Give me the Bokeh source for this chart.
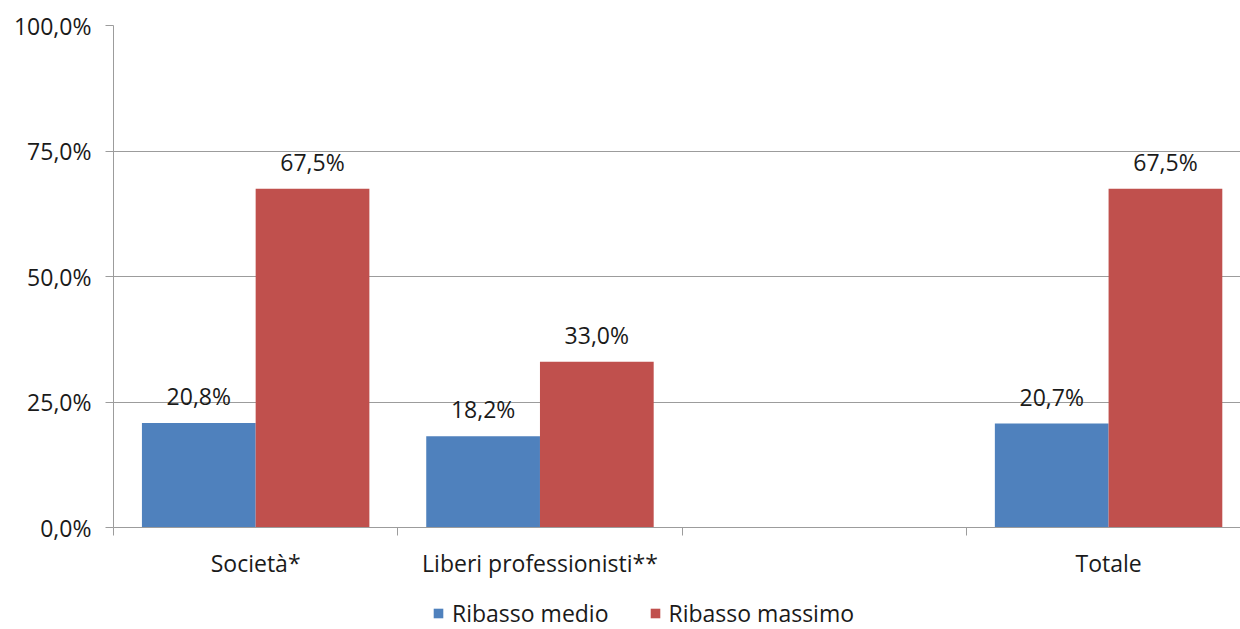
from bokeh.plotting import figure
from bokeh.layouts import column
from bokeh.models import (Range1d, FixedTicker, Legend, LegendItem, ColumnDataSource,
                          LinearAxis)
from bokeh.core.properties import value
from bokeh.embed import file_html
from bokeh.resources import INLINE

categories = ["Società*", "Liberi professionisti**", "", "Totale"]
ribasso_medio = [20.8, 18.2, None, 20.7]
ribasso_massimo = [67.5, 33.0, None, 67.5]
series_names = ["Ribasso medio", "Ribasso massimo"]
y_ticks = [0, 25, 50, 75, 100]

FONT = "Open Sans"
FS = "23px"
TXT = "#1a1a1a"
GRID = "#9c9c9c"
colors = ["#4F81BD", "#C0504D"]

def fmt(v):
    return f"{v:.1f}%".replace(".", ",")

p = figure(width=1240, height=590, x_range=Range1d(0, 3.964), y_range=Range1d(0, 100),
           output_backend="svg", toolbar_location=None, x_axis_location=None,
           y_axis_location=None)
p.min_border_left = 113
p.min_border_top = 25
p.min_border_right = 0
p.min_border_bottom = 63
p.outline_line_color = None
p.background_fill_color = "white"
p.border_fill_color = "white"

# y axis
yax = LinearAxis(ticker=FixedTicker(ticks=y_ticks))
yax.major_label_overrides = {t: fmt(t) for t in y_ticks}
yax.major_label_text_font = FONT
yax.major_label_text_font_size = FS
yax.major_label_text_color = TXT
yax.major_tick_out = 8
yax.major_tick_in = 0
yax.minor_tick_line_color = None
yax.major_tick_line_color = GRID
yax.axis_line_color = GRID
yax.major_label_standoff = 14
p.add_layout(yax, "left")

# x axis
centers = [i + 0.5 for i in range(len(categories))]
bounds = list(range(len(categories)))
xax = LinearAxis(ticker=FixedTicker(ticks=centers, minor_ticks=bounds))
xax.major_label_overrides = {c: n for c, n in zip(centers, categories)}
xax.major_label_text_font = FONT
xax.major_label_text_font_size = FS
xax.major_label_text_color = TXT
xax.major_tick_line_color = None
xax.minor_tick_out = 8
xax.minor_tick_in = 0
xax.minor_tick_line_color = GRID
xax.axis_line_color = GRID
xax.major_label_standoff = 11
p.add_layout(xax, "below")

p.ygrid.ticker = FixedTicker(ticks=y_ticks)
p.ygrid.grid_line_color = GRID
p.xgrid.grid_line_color = None

sources = []
for vals, col, off in zip([ribasso_medio, ribasso_massimo], colors, [-0.2, 0.2]):
    xs, ys, labs = [], [], []
    for i, v in enumerate(vals):
        if v is None:
            continue
        xs.append(i + 0.5 + off)
        ys.append(v)
        labs.append(fmt(v))
    src = ColumnDataSource(dict(x=xs, top=ys, lab=labs))
    sources.append(src)
    p.vbar(x="x", top="top", width=0.4, bottom=0, source=src, fill_color=col,
           line_color=None)
    p.text(x="x", y="top", text="lab", source=src, text_align="center",
           text_baseline="middle", y_offset=-27, text_font=value(FONT),
           text_font_size=FS, text_color=TXT)

# legend strip below the chart (its zero-width bars share the series data, out of view)
p2 = figure(width=1240, height=39, x_range=Range1d(0, 3.964), y_range=Range1d(-1000, -999),
            output_backend="svg", toolbar_location=None, x_axis_location=None,
            y_axis_location=None, min_border=0)
p2.outline_line_color = None
p2.grid.visible = False
leg_renderers = []
for src, col in zip(sources, colors):
    r = p2.vbar(x="x", top="top", width=0, bottom=0, source=src, fill_color=col,
                line_color=None)
    leg_renderers.append(r)

legend = Legend(items=[LegendItem(label=n, renderers=[r]) for n, r in zip(series_names, leg_renderers)],
                orientation="horizontal", location=(319, 0))
legend.glyph_width = 12
legend.glyph_height = 12
legend.label_standoff = 8
legend.spacing = 40
legend.padding = 0
legend.margin = 0
legend.border_line_color = None
legend.background_fill_alpha = 0
legend.label_text_font = FONT
legend.label_text_font_size = FS
legend.label_text_color = TXT
p2.add_layout(legend, "center")

open("out.html", "w").write(file_html(column(p, p2, spacing=0), INLINE))
